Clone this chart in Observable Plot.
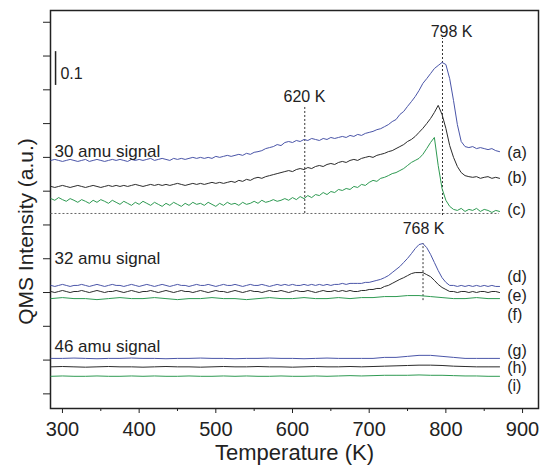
<!DOCTYPE html>
<html>
<head>
<meta charset="utf-8">
<script src="https://cdn.jsdelivr.net/npm/d3@7"></script>
<script src="https://cdn.jsdelivr.net/npm/@observablehq/plot@0.6"></script>
<style>
  html, body { margin: 0; padding: 0; background: #fff; }
  #chart { width: 541px; height: 466px; }
</style>
</head>
<body>
<div id="chart"></div>
<script>
// Temperature grids (K)
const temps5 = d3.range(285, 871, 5);   // 118 samples
const temps15 = d3.range(285, 871, 15); // 40 samples

// 30 amu signal (a.u., vertically offset traces)
const a30 = [
  0.791, 0.794, 0.791, 0.788, 0.791, 0.794, 0.791, 0.788, 0.791, 0.794,
  0.788, 0.791, 0.794, 0.791, 0.788, 0.791, 0.794, 0.791, 0.794, 0.791,
  0.788, 0.794, 0.791, 0.794, 0.791, 0.794, 0.797, 0.791, 0.794, 0.797,
  0.794, 0.791, 0.797, 0.794, 0.797, 0.794, 0.797, 0.800, 0.797, 0.800,
  0.797, 0.800, 0.797, 0.803, 0.800, 0.803, 0.806, 0.803, 0.806, 0.809,
  0.806, 0.812, 0.809, 0.815, 0.817, 0.820, 0.826, 0.829, 0.832, 0.838,
  0.835, 0.844, 0.847, 0.844, 0.850, 0.847, 0.853, 0.850, 0.856, 0.853,
  0.850, 0.856, 0.853, 0.859, 0.856, 0.859, 0.862, 0.859, 0.865, 0.862,
  0.868, 0.865, 0.871, 0.874, 0.877, 0.882, 0.885, 0.891, 0.897, 0.906,
  0.912, 0.927, 0.936, 0.951, 0.965, 0.980, 0.998, 1.019, 1.033, 1.048,
  1.063, 1.072, 1.081, 1.075, 1.033, 0.968, 0.897, 0.847, 0.832, 0.829,
  0.832, 0.826, 0.829, 0.826, 0.823, 0.826, 0.820, 0.817
];
const b30 = [
  0.714, 0.711, 0.714, 0.717, 0.714, 0.711, 0.714, 0.717, 0.714, 0.711,
  0.714, 0.717, 0.714, 0.711, 0.714, 0.717, 0.714, 0.717, 0.714, 0.717,
  0.714, 0.717, 0.720, 0.717, 0.714, 0.717, 0.720, 0.717, 0.720, 0.717,
  0.720, 0.717, 0.720, 0.723, 0.720, 0.717, 0.720, 0.723, 0.720, 0.723,
  0.720, 0.723, 0.726, 0.723, 0.726, 0.723, 0.726, 0.729, 0.726, 0.732,
  0.729, 0.735, 0.732, 0.738, 0.741, 0.738, 0.743, 0.746, 0.749, 0.752,
  0.755, 0.758, 0.761, 0.758, 0.764, 0.767, 0.764, 0.770, 0.767, 0.773,
  0.776, 0.773, 0.779, 0.782, 0.779, 0.785, 0.788, 0.785, 0.791, 0.794,
  0.791, 0.797, 0.800, 0.803, 0.800, 0.806, 0.809, 0.812, 0.817, 0.820,
  0.826, 0.832, 0.838, 0.847, 0.853, 0.862, 0.874, 0.886, 0.900, 0.915,
  0.933, 0.954, 0.927, 0.886, 0.835, 0.800, 0.773, 0.755, 0.746, 0.743,
  0.741, 0.743, 0.738, 0.741, 0.743, 0.738, 0.741, 0.738
];
const c30 = [
  0.678, 0.673, 0.681, 0.675, 0.670, 0.678, 0.673, 0.667, 0.675, 0.670,
  0.664, 0.673, 0.667, 0.675, 0.670, 0.664, 0.673, 0.667, 0.661, 0.670,
  0.664, 0.658, 0.667, 0.661, 0.670, 0.664, 0.658, 0.667, 0.661, 0.655,
  0.664, 0.658, 0.667, 0.661, 0.655, 0.664, 0.658, 0.667, 0.661, 0.664,
  0.658, 0.667, 0.661, 0.655, 0.664, 0.658, 0.667, 0.661, 0.664, 0.658,
  0.667, 0.661, 0.664, 0.670, 0.664, 0.673, 0.667, 0.670, 0.675, 0.670,
  0.673, 0.678, 0.673, 0.681, 0.675, 0.684, 0.678, 0.687, 0.681, 0.690,
  0.687, 0.696, 0.690, 0.699, 0.696, 0.705, 0.702, 0.708, 0.705, 0.714,
  0.711, 0.720, 0.717, 0.726, 0.732, 0.729, 0.738, 0.741, 0.746, 0.752,
  0.755, 0.761, 0.767, 0.776, 0.785, 0.791, 0.797, 0.809, 0.826, 0.844,
  0.859, 0.776, 0.708, 0.673, 0.655, 0.646, 0.643, 0.649, 0.640, 0.646,
  0.643, 0.649, 0.640, 0.646, 0.643, 0.637, 0.643, 0.640
];

// 32 amu signal
const d32 = [
  0.421, 0.418, 0.421, 0.424, 0.421, 0.418, 0.421, 0.421, 0.424, 0.421,
  0.418, 0.421, 0.424, 0.421, 0.418, 0.421, 0.424, 0.421, 0.421, 0.418,
  0.421, 0.424, 0.421, 0.418, 0.421, 0.424, 0.421, 0.418, 0.421, 0.424,
  0.421, 0.418, 0.421, 0.424, 0.421, 0.421, 0.418, 0.421, 0.424, 0.421,
  0.421, 0.424, 0.421, 0.418, 0.421, 0.424, 0.421, 0.421, 0.424, 0.421,
  0.418, 0.421, 0.424, 0.421, 0.421, 0.424, 0.421, 0.418, 0.421, 0.424,
  0.421, 0.424, 0.421, 0.424, 0.421, 0.421, 0.424, 0.421, 0.424, 0.421,
  0.424, 0.421, 0.424, 0.421, 0.424, 0.424, 0.427, 0.424, 0.427, 0.427,
  0.427, 0.427, 0.430, 0.430, 0.433, 0.436, 0.439, 0.444, 0.450, 0.459,
  0.468, 0.477, 0.489, 0.501, 0.515, 0.530, 0.542, 0.545, 0.533, 0.513,
  0.489, 0.465, 0.444, 0.430, 0.421, 0.421, 0.418, 0.421, 0.418, 0.421,
  0.418, 0.421, 0.418, 0.421, 0.418, 0.421, 0.418, 0.418
];
const e32 = [
  0.403, 0.400, 0.403, 0.406, 0.403, 0.400, 0.403, 0.403, 0.406, 0.403,
  0.400, 0.403, 0.406, 0.403, 0.400, 0.403, 0.403, 0.406, 0.403, 0.400,
  0.403, 0.406, 0.403, 0.400, 0.403, 0.403, 0.406, 0.403, 0.400, 0.403,
  0.406, 0.403, 0.400, 0.403, 0.406, 0.403, 0.403, 0.400, 0.403, 0.406,
  0.403, 0.400, 0.403, 0.406, 0.403, 0.403, 0.400, 0.403, 0.406, 0.403,
  0.400, 0.403, 0.406, 0.403, 0.403, 0.400, 0.403, 0.406, 0.403, 0.403,
  0.406, 0.403, 0.400, 0.403, 0.406, 0.403, 0.403, 0.406, 0.403, 0.400,
  0.403, 0.406, 0.403, 0.403, 0.406, 0.403, 0.406, 0.403, 0.406, 0.403,
  0.403, 0.406, 0.406, 0.409, 0.409, 0.412, 0.412, 0.418, 0.421, 0.427,
  0.433, 0.439, 0.444, 0.450, 0.456, 0.459, 0.459, 0.459, 0.453, 0.447,
  0.436, 0.424, 0.415, 0.409, 0.403, 0.403, 0.400, 0.403, 0.403, 0.400,
  0.403, 0.400, 0.403, 0.403, 0.400, 0.403, 0.403, 0.400
];
const f32 = [
  0.382, 0.385, 0.382, 0.382, 0.379, 0.382, 0.385, 0.382, 0.382, 0.385,
  0.382, 0.379, 0.382, 0.382, 0.385, 0.382, 0.382, 0.379, 0.382, 0.385,
  0.382, 0.382, 0.385, 0.382, 0.382, 0.385, 0.382, 0.385, 0.385, 0.388,
  0.388, 0.391, 0.391, 0.388, 0.385, 0.382, 0.382, 0.385, 0.382, 0.382
];

// 46 amu signal
const g46 = [
  0.205, 0.205, 0.206, 0.205, 0.204, 0.205, 0.205, 0.206, 0.205, 0.205,
  0.204, 0.205, 0.205, 0.206, 0.205, 0.205, 0.204, 0.205, 0.205, 0.206,
  0.205, 0.205, 0.204, 0.205, 0.206, 0.205, 0.205, 0.205, 0.205, 0.208,
  0.208, 0.211, 0.214, 0.214, 0.211, 0.208, 0.205, 0.205, 0.205, 0.205
];
const h46 = [
  0.180, 0.181, 0.180, 0.179, 0.180, 0.181, 0.180, 0.180, 0.179, 0.180,
  0.181, 0.180, 0.180, 0.179, 0.180, 0.181, 0.180, 0.180, 0.181, 0.180,
  0.180, 0.179, 0.180, 0.181, 0.180, 0.180, 0.181, 0.180, 0.181, 0.182,
  0.183, 0.184, 0.185, 0.185, 0.184, 0.182, 0.181, 0.180, 0.180, 0.180
];
const i46 = [
  0.152, 0.153, 0.152, 0.152, 0.153, 0.152, 0.152, 0.153, 0.152, 0.153,
  0.152, 0.152, 0.153, 0.152, 0.152, 0.153, 0.152, 0.153, 0.152, 0.152,
  0.153, 0.152, 0.152, 0.153, 0.152, 0.153, 0.154, 0.153, 0.154, 0.155,
  0.155, 0.155, 0.156, 0.155, 0.155, 0.154, 0.153, 0.153, 0.152, 0.152
];

// Series labels at right
const seriesLabels = ["(a)", "(b)", "(c)", "(d)", "(e)", "(f)", "(g)", "(h)", "(i)"];
const seriesLabelV = [0.812, 0.739, 0.644, 0.445, 0.391, 0.335, 0.228, 0.178, 0.125];
const seriesLabelT = 880;

// Group labels
const groupLabels = ["30 amu signal", "32 amu signal", "46 amu signal"];
const groupLabelV = [0.817, 0.502, 0.240];
const groupLabelT = 289.6;

// Peak annotations
const peakLabels = ["620 K", "798 K", "768 K"];
const peakLabelT = [615.6, 807.4, 771];
const peakLabelV = [0.978, 1.173, 0.587];
const peakLineT = [616, 795.6, 770.2];
const peakLineTop = [0.948, 1.152, 0.545];
const peakLineBottom = [0.634, 0.628, 0.376];
const baselineV = 0.634; // dotted reference for the 30 amu traces
const baselineT = [285, 870];

// Scale bar
const scaleBarT = 291;
const scaleBarV = [1.013, 1.113];
const scaleBarLabel = "0.1";

// Axis ticks
const xMajorTicks = [300, 400, 500, 600, 700, 800, 900];
const xMinorTicks = [350, 450, 550, 650, 750, 850];
const yTicks = [0.1, 0.2, 0.3, 0.4, 0.5, 0.6, 0.7, 0.8, 0.9, 1.0, 1.1, 1.2];

const BLUE = "#4a55a8", BLACK = "#2b2b2b", GREEN = "#2e9a52";

const pts = (T, V) => T.map((t, i) => ({T: t, v: V[i]}));
const series = [
  [temps5, a30, BLUE], [temps5, b30, BLACK], [temps5, c30, GREEN],
  [temps5, d32, BLUE], [temps5, e32, BLACK], [temps15, f32, GREEN],
  [temps15, g46, BLUE], [temps15, h46, BLACK], [temps15, i46, GREEN]
];

const peakRows = peakLabels.map((l, i) => ({
  label: l, lt: peakLabelT[i], lv: peakLabelV[i],
  T: peakLineT[i], top: peakLineTop[i], bottom: peakLineBottom[i]
}));

const chart = Plot.plot({
  width: 541,
  height: 466,
  marginLeft: 50,
  marginRight: 3,
  marginTop: 10,
  marginBottom: 58,
  style: {fontFamily: "'Liberation Sans', Arial, sans-serif", background: "#fff", color: "#222"},
  x: {domain: [284.4, 920.8], label: null},
  y: {domain: [0.0567, 1.2348], label: null},
  marks: [
    Plot.axisX({ticks: xMajorTicks, tickSize: 5, tickPadding: 8, fontSize: 20, tickFormat: d => String(d), label: null, stroke: "#222"}),
    Plot.axisX({ticks: xMinorTicks, tickSize: 3, tickFormat: () => "", label: null, stroke: "#222"}),
    Plot.axisY({ticks: yTicks, tickSize: 7, tickFormat: () => "", label: null, stroke: "#222"}),
    Plot.frame({stroke: "#222", strokeWidth: 1.5}),
    Plot.ruleY([baselineV], {x1: baselineT[0], x2: baselineT[1], stroke: "#666", strokeDasharray: "2,2", strokeWidth: 1}),
    Plot.ruleX(peakRows, {x: "T", y1: "bottom", y2: "top", stroke: "#333", strokeDasharray: "2,2", strokeWidth: 1}),
    ...series.map(([T, V, c]) => Plot.line(pts(T, V), {x: "T", y: "v", stroke: c, strokeWidth: 1})),
    Plot.text(peakRows, {x: "lt", y: "lv", text: "label", fontSize: 16, fill: "#222"}),
    Plot.ruleX([scaleBarT], {y1: scaleBarV[0], y2: scaleBarV[1], stroke: "#222", strokeWidth: 1.5}),
    Plot.text([scaleBarLabel], {x: 297.4, y: 1.048, text: d => d, textAnchor: "start", fontSize: 16, fill: "#222"}),
    Plot.text(groupLabels, {x: groupLabelT, y: (d, i) => groupLabelV[i], text: d => d, textAnchor: "start", fontSize: 17, fill: "#222"}),
    Plot.text(seriesLabels, {x: seriesLabelT, y: (d, i) => seriesLabelV[i], text: d => d, textAnchor: "start", fontSize: 16, fill: "#222"}),
    Plot.text(["Temperature (K)"], {frameAnchor: "bottom", dy: 44, lineAnchor: "middle", textAnchor: "middle", text: d => d, fontSize: 22, fill: "#222"}),
    Plot.text(["QMS Intensity (a.u.)"], {frameAnchor: "left", dx: -24, dy: 22, rotate: -90, lineAnchor: "middle", textAnchor: "middle", text: d => d, fontSize: 21, fill: "#222"})
  ]
});
document.getElementById("chart").appendChild(chart);
</script>
</body>
</html>
